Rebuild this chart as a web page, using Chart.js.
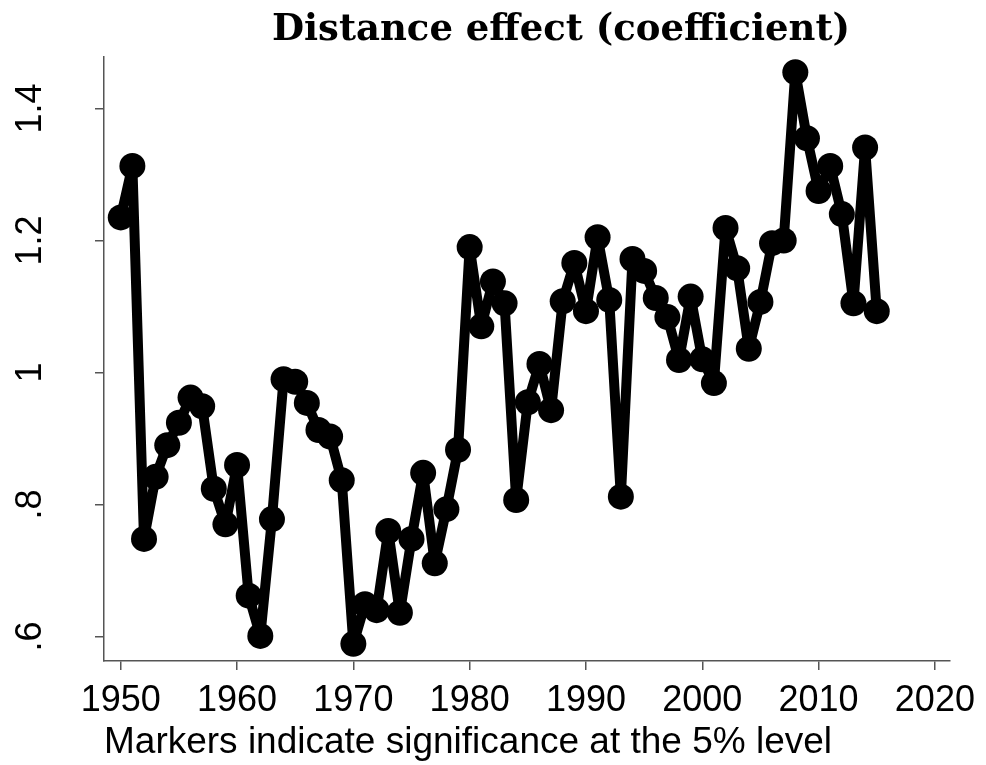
<!DOCTYPE html>
<html>
<head>
<meta charset="utf-8">
<script src="https://cdn.jsdelivr.net/npm/chart.js@4.4.1/dist/chart.umd.min.js"></script>
<style>
  body { margin: 0; background: #fff; }
  #wrap { width: 986px; height: 765px; }
</style>
</head>
<body>
<div id="wrap"><canvas id="coefChart" width="986" height="765"></canvas></div>
<script>
var years = [1950, 1951, 1952, 1953, 1954, 1955, 1956, 1957, 1958, 1959,
             1960, 1961, 1962, 1963, 1964, 1965, 1966, 1967, 1968, 1969,
             1970, 1971, 1972, 1973, 1974, 1975, 1976, 1977, 1978, 1979,
             1980, 1981, 1982, 1983, 1984, 1985, 1986, 1987, 1988, 1989,
             1990, 1991, 1992, 1993, 1994, 1995, 1996, 1997, 1998, 1999,
             2000, 2001, 2002, 2003, 2004, 2005, 2006, 2007, 2008, 2009,
             2010, 2011, 2012, 2013, 2014, 2015];
var coef = [1.235, 1.313, 0.748, 0.842, 0.890, 0.924, 0.962, 0.949, 0.824, 0.770,
            0.860, 0.662, 0.601, 0.778, 0.990, 0.986, 0.954, 0.913, 0.903, 0.837,
            0.589, 0.649, 0.640, 0.760, 0.636, 0.748, 0.848, 0.711, 0.793, 0.883,
            1.190, 1.070, 1.138, 1.105, 0.807, 0.955, 1.013, 0.943, 1.108, 1.166,
            1.093, 1.205, 1.110, 0.812, 1.172, 1.154, 1.113, 1.084, 1.019, 1.115,
            1.020, 0.984, 1.219, 1.158, 1.036, 1.107, 1.196, 1.200, 1.455, 1.355,
            1.275, 1.313, 1.240, 1.105, 1.341, 1.093];
var xTicks = [1950, 1960, 1970, 1980, 1990, 2000, 2010, 2020];
var yTicks = [0.6, 0.8, 1.0, 1.2, 1.4];
var yTickLabels = [".6", ".8", "1", "1.2", "1.4"];

var chartTitle = "Distance effect (coefficient)";
var xCaption = "Markers indicate significance at the 5% level";

var axisGrey = "#555555";

// title sits over the plot like the Stata graph, a bit right of centre
var titlePlugin = {
    id: "plotTitle",
    afterDraw: function (chart) {
        var ctx = chart.ctx;
        ctx.save();
        ctx.font = "bold 37px 'DejaVu Serif', serif";
        ctx.fillStyle = "#000";
        ctx.textAlign = "center";
        ctx.textBaseline = "alphabetic";
        ctx.fillText(chartTitle, 561, 39.5);
        ctx.restore();
    }
};

var data = years.map(function (y, i) { return { x: y, y: coef[i] }; });

new Chart(document.getElementById("coefChart"), {
    type: "line",
    data: {
        datasets: [{
            data: data,
            borderColor: "#000",
            backgroundColor: "#000",
            borderWidth: 10,
            borderJoinStyle: "round",
            pointRadius: 13,
            pointBorderWidth: 0,
            pointBackgroundColor: "#000",
            tension: 0
        }]
    },
    options: {
        responsive: false,
        animation: false,
        layout: { padding: { top: 57, right: 36, left: 0, bottom: 0 } },
        plugins: {
            legend: { display: false },
            tooltip: { enabled: false }
        },
        scales: {
            x: {
                type: "linear",
                min: 1948.56,
                max: 2021.3,
                afterBuildTicks: function (scale) {
                    scale.ticks = xTicks.map(function (v) { return { value: v }; });
                },
                afterFit: function (scale) {
                    scale.height = 104;
                    scale.paddingLeft = 0;
                    scale.paddingRight = 0;
                },
                ticks: {
                    color: "#000",
                    font: { family: "'Liberation Sans'", size: 36 },
                    padding: 9,
                    maxRotation: 0,
                    callback: function (v) { return String(v); }
                },
                grid: { drawOnChartArea: false, drawTicks: true, tickLength: 9, color: axisGrey, lineWidth: 1.5 },
                border: { display: true, color: axisGrey, width: 1.5 },
                title: {
                    display: true,
                    text: xCaption,
                    align: "start",
                    color: "#000",
                    font: { family: "'Liberation Sans'", size: 37 },
                    padding: { top: 0, bottom: 0 }
                }
            },
            y: {
                min: 0.563,
                max: 1.478,
                afterBuildTicks: function (scale) {
                    scale.ticks = yTicks.map(function (v) { return { value: v }; });
                },
                afterFit: function (scale) {
                    scale.width = 104;
                    scale.paddingTop = 0;
                    scale.paddingBottom = 0;
                },
                ticks: {
                    color: "#000",
                    font: { family: "'Liberation Sans'", size: 36 },
                    minRotation: 90,
                    maxRotation: 90,
                    crossAlign: "center",
                    padding: 39,
                    callback: function (v) {
                        var i = yTicks.indexOf(v);
                        return i >= 0 ? yTickLabels[i] : "";
                    }
                },
                grid: { drawOnChartArea: false, drawTicks: true, tickLength: 9, color: axisGrey, lineWidth: 1.5 },
                border: { display: true, color: axisGrey, width: 1.5 }
            }
        }
    },
    plugins: [titlePlugin]
});
</script>
</body>
</html>
